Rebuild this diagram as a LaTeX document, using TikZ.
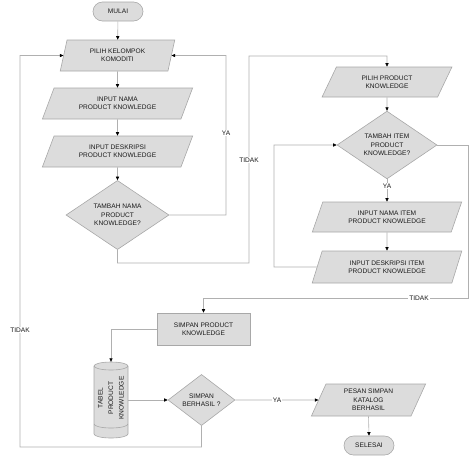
\documentclass[tikz,border=0pt]{standalone}
\usepackage{fontspec}
\setmainfont{Liberation Sans}
\usetikzlibrary{shapes.geometric,shapes.misc,arrows.meta}
\definecolor{shpfill}{HTML}{DCDCDC}
\definecolor{shpline}{HTML}{A8A8A8}
\definecolor{lnc}{HTML}{B0B0B0}
\definecolor{txt}{HTML}{1A1A1A}
\begin{document}
\begin{tikzpicture}[x=1pt,y=-1pt,
  every node/.style={font=\fontsize{6.6}{8.3}\selectfont, text=txt, align=center},
  base/.style={draw=shpline, fill=shpfill, line width=0.6pt, inner sep=1pt},
  term/.style={base, rounded rectangle, minimum width=52pt, minimum height=19pt},
  io/.style={base, trapezium, trapezium stretches=true},
  dec/.style={base, diamond, inner sep=0pt},
  proc/.style={base, rectangle, minimum width=93pt, minimum height=32pt},
  conn/.style={draw=lnc, line width=0.6pt, -{Triangle[length=3.5pt,width=3.2pt,color=black]}},
  lab/.style={fill=white, inner sep=1pt}]
\useasboundingbox (0,0) rectangle (474,459);

% nodes
\node[term] (mulai) at (118,11.5) {MULAI};
\node[io, trapezium left angle=75.5, trapezium right angle=104.5, minimum width=115pt, minimum height=31pt] (pilih1) at (117.5,55.5) {PILIH KELOMPOK\\KOMODITI};
\node[io, trapezium left angle=64, trapezium right angle=116, minimum width=151pt, minimum height=31pt] (nama) at (117.5,103.5) {INPUT NAMA\\PRODUCT KNOWLEDGE};
\node[io, trapezium left angle=64, trapezium right angle=116, minimum width=151pt, minimum height=31pt] (desk) at (117.5,151.5) {INPUT DESKRIPSI\\PRODUCT KNOWLEDGE};
\node[dec, minimum width=103pt, minimum height=62pt] (d1) at (117.5,215) {TAMBAH NAMA\\PRODUCT\\KNOWLEDGE?};

\node[io, trapezium left angle=63.4, trapezium right angle=116.6, minimum width=130pt, minimum height=30pt] (pilih2) at (387,82) {PILIH PRODUCT\\KNOWLEDGE};
\node[dec, minimum width=100pt, minimum height=57pt] (d2) at (387,145) {TAMBAH ITEM\\PRODUCT\\KNOWLEDGE?};
\node[io, trapezium left angle=66.6, trapezium right angle=113.4, minimum width=150pt, minimum height=30pt] (namaitem) at (387,217) {INPUT NAMA ITEM\\PRODUCT KNOWLEDGE};
\node[io, trapezium left angle=67.9, trapezium right angle=112.1, minimum width=150pt, minimum height=32pt] (deskitem) at (387,267) {INPUT DESKRIPSI ITEM\\PRODUCT KNOWLEDGE};

\node[proc] (simpan) at (203.5,329) {SIMPAN PRODUCT\\KNOWLEDGE};

% cylinder
\node[minimum width=34pt, minimum height=76pt, inner sep=0pt] (cyl) at (111,400) {};
\filldraw[draw=shpline, fill=shpfill, line width=0.6pt]
  (94,366) -- (94,434) arc[start angle=180, end angle=360, x radius=17pt, y radius=4pt]
  -- (128,366) arc[start angle=0, end angle=180, x radius=17pt, y radius=4pt] -- cycle;
\draw[draw=shpline, line width=0.6pt] (94,366) arc[start angle=180, end angle=360, x radius=17pt, y radius=4pt];
\draw[draw=shpline, line width=0.6pt] (94,424) arc[start angle=180, end angle=360, x radius=17pt, y radius=4pt];
\node[rotate=90, font=\fontsize{6.6}{10.5}\selectfont] (cyltext) at (111,398) {TABEL\\PRODUCT\\KNOWLEDGE};

\node[dec, minimum width=67pt, minimum height=46pt] (d3) at (201.5,400) {SIMPAN\\BERHASIL ?};
\node[io, trapezium left angle=69.4, trapezium right angle=110.6, minimum width=115pt, minimum height=32pt] (pesan) at (368.5,400) {PESAN SIMPAN\\KATALOG\\BERHASIL};
\node[term] (selesai) at (369,445.5) {SELESAI};

% waypoints
\coordinate (w1a) at (226,215);
\coordinate (w1b) at (226,55.5);
\coordinate (w2a) at (117.5,263);
\coordinate (w2b) at (249,263);
\coordinate (w2c) at (249,56);
\coordinate (w2d) at (387,56);
\coordinate (w3a) at (274,267);
\coordinate (w3b) at (274,145);
\coordinate (w4a) at (468,145);
\coordinate (w4b) at (468,298);
\coordinate (w4c) at (203.5,298);
\coordinate (w5a) at (111,329);
\coordinate (w6a) at (201.5,447);
\coordinate (w6b) at (20,447);
\coordinate (w6c) at (20,55.5);

% connectors
\draw[conn] (mulai) -- (pilih1);
\draw[conn] (pilih1) -- (nama);
\draw[conn] (nama) -- (desk);
\draw[conn] (desk) -- (d1);
\draw[conn] (d1.east) -- (w1a) -- (w1b) -- (pilih1.east);
\draw[conn] (d1.south) -- (w2a) -- (w2b) -- (w2c) -- (w2d) -- (pilih2.north);
\draw[conn] (pilih2) -- (d2);
\draw[conn] (d2) -- (namaitem);
\draw[conn] (namaitem) -- (deskitem);
\draw[conn] (deskitem.west) -- (w3a) -- (w3b) -- (d2.west);
\draw[conn] (d2.east) -- (w4a) -- (w4b) -- (w4c) -- (simpan.north);
\draw[conn] (simpan.west) -- (w5a) -- (cyl.north);
\draw[conn] (cyl.east) -- (d3.west);
\draw[conn] (d3.east) -- (pesan.west);
\draw[conn] (d3.south) -- (w6a) -- (w6b) -- (w6c) -- (pilih1.west);
\draw[conn] (pesan.south) -- (selesai.north);

% labels
\node[lab] (ya1) at (226,133) {YA};
\node[lab] (tidak1) at (249,160) {TIDAK};
\node[lab] (ya2) at (387,186) {YA};
\node[lab] (tidak2) at (419,298) {TIDAK};
\node[lab] (ya3) at (277,400) {YA};
\node[lab] (tidak3) at (20,330) {TIDAK};
\end{tikzpicture}
\end{document}
